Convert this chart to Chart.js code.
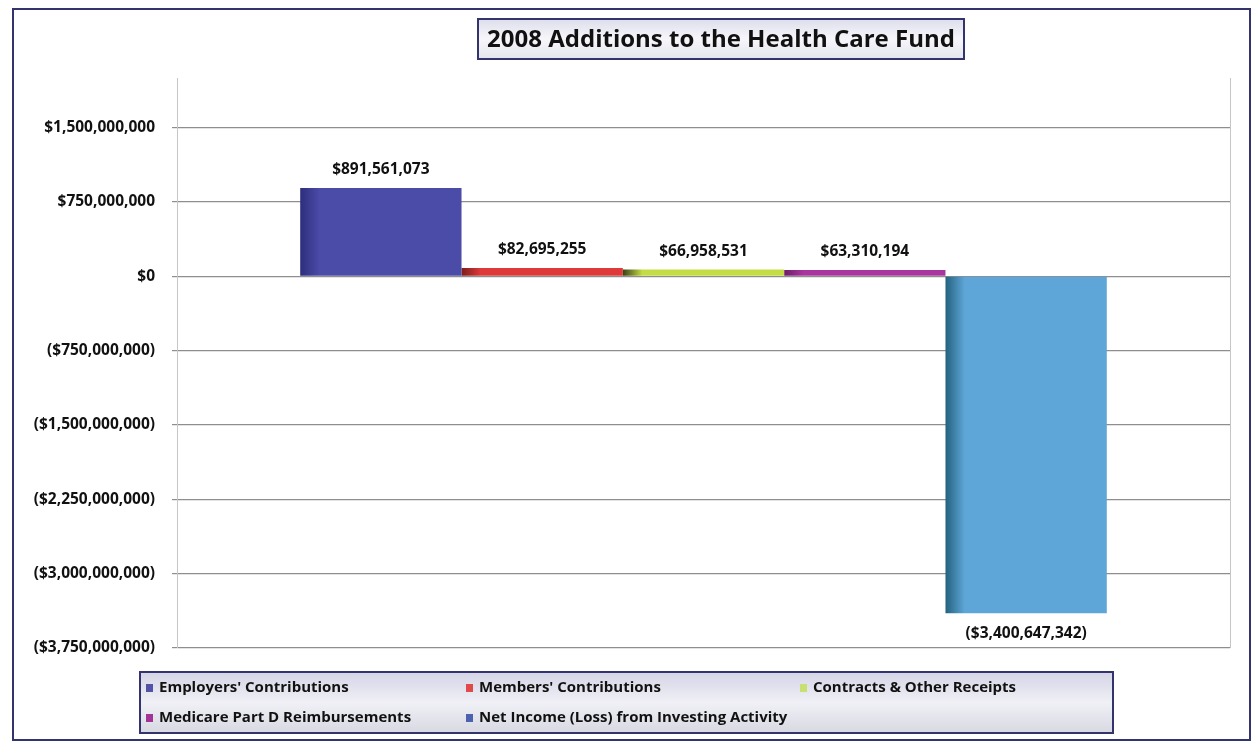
<!DOCTYPE html>
<html>
<head>
<meta charset="utf-8">
<script src="https://cdn.jsdelivr.net/npm/chart.js@4.4.1/dist/chart.umd.min.js"></script>
<style>
  html, body { margin: 0; padding: 0; background: #fff; }
</style>
</head>
<body>
<canvas id="chart" width="1258" height="745"></canvas>
<script>
const TITLE = '2008 Additions to the Health Care Fund';
const CATEGORIES = ['2008'];
const SERIES_NAMES = [
    "Employers' Contributions",
    "Members' Contributions",
    'Contracts & Other Receipts',
    'Medicare Part D Reimbursements',
    'Net Income (Loss) from Investing Activity'
];
const SERIES_VALUES = [891561073, 82695255, 66958531, 63310194, -3400647342];
const Y_TICKS = [-3750000000, -3000000000, -2250000000, -1500000000, -750000000, 0, 750000000, 1500000000];
const Y_MIN = -3750000000;
const Y_MAX = 2000000000;

// bar fill: darker left edge fading into the main colour
const BAR_COLORS = ['#4b4ba8', '#de3a3a', '#c4dc46', '#a8369e', '#5fa6d8'];
const BAR_EDGES = ['#2e2e7c', '#7c1c1c', '#3a3e16', '#6c1e66', '#23627e'];
const LEGEND_COLORS = ['#5252a6', '#e04a4a', '#c8e070', '#a23498', '#4c62b0'];

const FONT = '"Open Sans", "DejaVu Sans", sans-serif';
const NAVY = '#33336e';

function money(v) {
    const s = '$' + Math.abs(v).toLocaleString('en-US');
    return v < 0 ? '(' + s + ')' : s;
}

// page background, outer frame and the boxed title
const framePlugin = {
    id: 'frame',
    beforeDraw(chart) {
        const c = chart.ctx;
        c.save();
        c.fillStyle = '#fff';
        c.fillRect(0, 0, chart.width, chart.height);
        c.strokeStyle = NAVY;
        c.lineWidth = 2;
        c.strokeRect(13, 9, 1237, 731);

        const bx = 478, by = 19, bw = 486, bh = 40;
        const g = c.createLinearGradient(0, by, 0, by + bh);
        g.addColorStop(0, '#dedeec');
        g.addColorStop(0.5, '#f6f6fa');
        g.addColorStop(1, '#e4e4ee');
        c.fillStyle = g;
        c.fillRect(bx, by, bw, bh);
        c.strokeStyle = NAVY;
        c.lineWidth = 2;
        c.strokeRect(bx, by, bw, bh);
        c.fillStyle = '#111';
        c.font = 'bold 24px ' + FONT;
        c.textAlign = 'center';
        c.textBaseline = 'middle';
        c.fillText(TITLE, bx + bw / 2, by + bh / 2 + 1);
        c.restore();
    }
};

// horizontal gradient on each bar, built once bar positions are known
const barShading = {
    id: 'barShading',
    afterDatasetsUpdate(chart) {
        const c = chart.ctx;
        chart.data.datasets.forEach((ds, i) => {
            chart.getDatasetMeta(i).data.forEach(bar => {
                const left = bar.x - bar.width / 2;
                const right = bar.x + bar.width / 2;
                const g = c.createLinearGradient(left, 0, right, 0);
                g.addColorStop(0, BAR_EDGES[i]);
                g.addColorStop(0.12, BAR_COLORS[i]);
                g.addColorStop(1, BAR_COLORS[i]);
                bar.options = Object.assign({}, bar.options, { backgroundColor: g });
            });
        });
    }
};

// value labels above positive bars and below negative ones
const valueLabels = {
    id: 'valueLabels',
    afterDatasetsDraw(chart) {
        const c = chart.ctx;
        c.save();
        c.font = 'bold 15.5px ' + FONT;
        c.fillStyle = '#111';
        c.textAlign = 'center';
        c.textBaseline = 'middle';
        chart.data.datasets.forEach((ds, i) => {
            chart.getDatasetMeta(i).data.forEach((bar, j) => {
                const v = ds.data[j];
                const y = v >= 0 ? bar.y - 18 : bar.y + 20;
                c.fillText(money(v), bar.x, y);
            });
        });
        c.restore();
    }
};

// boxed legend laid out in three columns under the plot
const legendBox = {
    id: 'legendBox',
    afterDraw(chart) {
        const c = chart.ctx;
        const bx = 140, by = 672, bw = 973, bh = 61;
        c.save();
        const g = c.createLinearGradient(0, by, 0, by + bh);
        g.addColorStop(0, '#d4d4e6');
        g.addColorStop(0.5, '#f0f0f6');
        g.addColorStop(1, '#d8d8e2');
        c.fillStyle = g;
        c.fillRect(bx, by, bw, bh);
        c.strokeStyle = NAVY;
        c.lineWidth = 2;
        c.strokeRect(bx, by, bw, bh);

        const cols = [146, 466, 800];
        const rows = [688, 718];
        c.font = 'bold 15px ' + FONT;
        c.textBaseline = 'middle';
        c.textAlign = 'left';
        chart.data.datasets.forEach((ds, i) => {
            const x = cols[i % 3];
            const y = rows[Math.floor(i / 3)];
            c.fillStyle = LEGEND_COLORS[i];
            c.fillRect(x, y - 4, 7, 8);
            c.fillStyle = '#111';
            c.fillText(ds.label, x + 13, y);
        });
        c.restore();
    }
};

new Chart(document.getElementById('chart').getContext('2d'), {
    type: 'bar',
    data: {
        labels: CATEGORIES,
        datasets: SERIES_NAMES.map((name, i) => ({
            label: name,
            data: [SERIES_VALUES[i]],
            backgroundColor: BAR_COLORS[i],
            borderWidth: 0,
            categoryPercentage: 0.766,
            barPercentage: 1
        }))
    },
    options: {
        responsive: false,
        animation: false,
        layout: { padding: { left: 0, right: 28, top: 78, bottom: 97 } },
        plugins: {
            legend: { display: false },
            title: { display: false },
            tooltip: { enabled: false }
        },
        scales: {
            x: {
                ticks: { display: false },
                grid: { offset: true, color: '#c6c6c6', drawTicks: false },
                border: { display: false }
            },
            y: {
                min: Y_MIN,
                max: Y_MAX,
                afterBuildTicks: scale => {
                    scale.ticks = Y_TICKS.map(v => ({ value: v }));
                },
                afterFit: scale => { scale.width = 177; },
                ticks: {
                    padding: 17,
                    color: '#111',
                    font: { family: FONT, size: 15.5, weight: 'bold' },
                    callback: v => money(v)
                },
                grid: { color: '#8e8e8e', lineWidth: 1.2, tickLength: 5 },
                border: { display: true, color: '#c6c6c6' }
            }
        }
    },
    plugins: [framePlugin, barShading, valueLabels, legendBox]
});
</script>
</body>
</html>
